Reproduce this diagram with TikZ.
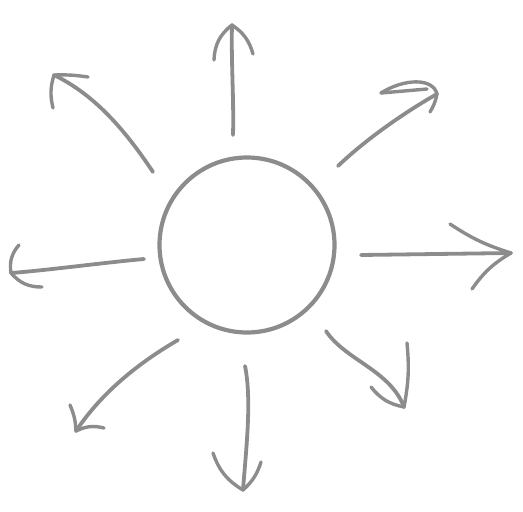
\documentclass[tikz,border=0pt]{standalone}
\begin{document}
\begin{tikzpicture}[x=1pt,y=-1pt,
  ink/.style={draw=sunink, line width=3.8pt, line cap=round, line join=round},
  barb/.style={draw=sunink, line width=3.4pt, line cap=round},
  sunring/.style={circle, draw=sunink, line width=4.2pt, minimum size=175pt, inner sep=0pt}]
\definecolor{sunink}{RGB}{140,140,140}
\useasboundingbox (0,0) rectangle (523,512);
\node[sunring] (sun) at (247,245) {};
% up
\coordinate (s1) at (233,135); \coordinate (t1) at (232,25);
\coordinate (a1) at (214,60); \coordinate (b1) at (253,54);
\draw[ink] (s1) .. controls (234,100) and (231,60) .. (t1);
\draw[barb] (t1) to[bend right=25] (a1);
\draw[barb] (t1) to[bend left=20] (b1);
% upper right
\coordinate (s2) at (338,166); \coordinate (t2) at (437,94);
\coordinate (a2) at (381,93); \coordinate (b2) at (430,112);
\draw[ink] (s2) .. controls (365,140) and (405,112) .. (t2);
\draw[barb] (t2) .. controls (433,78) and (405,78) .. (a2);
\draw[barb] (a2) -- (427,89);
\draw[barb] (t2) to[bend left=10] (b2);
% right
\coordinate (s3) at (361,255); \coordinate (t3) at (511,253);
\coordinate (a3) at (450,224); \coordinate (b3) at (472,289);
\draw[ink] (s3) -- (t3);
\draw[barb] (t3) to[bend left=8] (a3);
\draw[barb] (t3) to[bend right=12] (b3);
% lower right
\coordinate (s4) at (326,331); \coordinate (t4) at (404,407);
\coordinate (a4) at (407,343); \coordinate (b4) at (371,387);
\draw[ink] (s4) .. controls (345,360) and (390,370) .. (t4);
\draw[barb] (t4) to[bend right=8] (a4);
\draw[barb] (t4) to[bend left=20] (b4);
% down
\coordinate (s5) at (245,366); \coordinate (t5) at (243,490);
\coordinate (a5) at (213,453); \coordinate (b5) at (261,462);
\draw[ink] (s5) .. controls (252,400) and (246,450) .. (t5);
\draw[barb] (t5) to[bend left=20] (a5);
\draw[barb] (t5) to[bend right=15] (b5);
% lower left
\coordinate (s6) at (178,340); \coordinate (t6) at (76,431);
\coordinate (a6) at (70,405); \coordinate (b6) at (104,428);
\draw[ink] (s6) .. controls (135,365) and (100,395) .. (t6);
\draw[barb] (t6) to[bend right=10] (a6);
\draw[barb] (t6) to[bend left=20] (b6);
% left
\coordinate (s7) at (144,259); \coordinate (t7) at (11,273);
\coordinate (a7) at (19,245); \coordinate (b7) at (42,287);
\draw[ink] (s7) .. controls (100,263) and (50,270) .. (t7);
\draw[barb] (t7) to[bend left=25] (a7);
\draw[barb] (t7) to[bend right=25] (b7);
% upper left
\coordinate (s8) at (153,172); \coordinate (t8) at (54,75);
\coordinate (a8) at (88,77); \coordinate (b8) at (53,108);
\draw[ink] (s8) .. controls (125,130) and (95,95) .. (t8);
\draw[barb] (t8) to[bend left=5] (a8);
\draw[barb] (t8) to[bend right=15] (b8);
\end{tikzpicture}
\end{document}
